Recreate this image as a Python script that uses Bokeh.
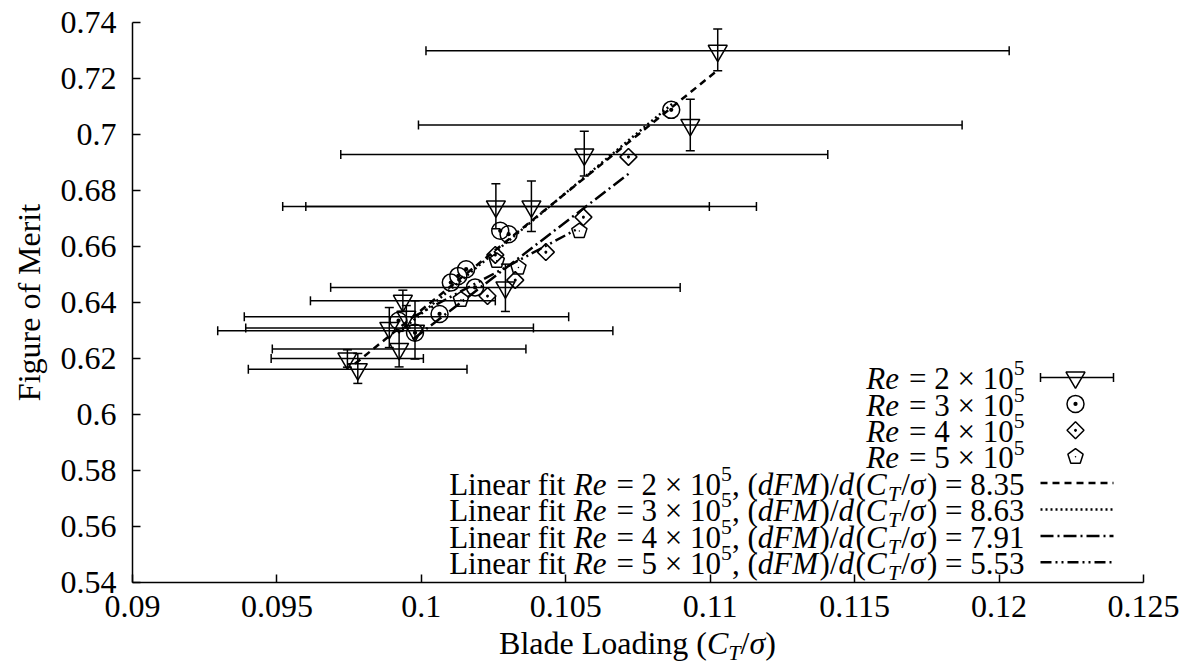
import numpy as np
from bokeh.plotting import figure
from bokeh.layouts import column
from bokeh.models import ColumnDataSource, Whisker, TeeHead, Label, FixedTicker, Range1d, Div
from bokeh.embed import file_html
from bokeh.resources import INLINE

# ---------------- data ----------------
# Re = 2e5 (with x and y error bars)
re2_x   = [0.11026, 0.10931, 0.10564, 0.10258, 0.10381, 0.10291, 0.09936, 0.09948, 0.09889, 0.09978, 0.09923, 0.09744, 0.09780]
re2_y   = [0.7299, 0.7034, 0.6929, 0.6743, 0.6743, 0.6454, 0.6406, 0.6349, 0.6309, 0.6299, 0.6234, 0.6200, 0.6162]
re2_xlo = [0.10016, 0.09990, 0.09721, 0.09520, 0.09600, 0.09686, 0.09616, 0.09387, 0.09392, 0.09295, 0.09484, 0.09480, 0.09401]
re2_xhi = [0.12035, 0.11872, 0.11407, 0.10997, 0.11160, 0.10896, 0.10256, 0.10510, 0.10388, 0.10663, 0.10362, 0.10007, 0.10158]
re2_ylo = [0.7228, 0.6942, 0.6852, 0.6663, 0.6654, 0.6368, 0.6368, 0.6309, 0.6239, 0.6198, 0.6170, 0.6169, 0.6111]
re2_yhi = [0.7377, 0.7126, 0.7012, 0.6824, 0.6834, 0.6537, 0.6444, 0.6389, 0.6382, 0.6406, 0.6297, 0.6231, 0.6218]

# Re = 3e5
re3_x = [0.10865, 0.10273, 0.10302, 0.10155, 0.10128, 0.10102, 0.10186, 0.10063, 0.09921, 0.09978]
re3_y = [0.7088, 0.6656, 0.6644, 0.6519, 0.6495, 0.6471, 0.6454, 0.6359, 0.6335, 0.6292]

# Re = 4e5
re4_x = [0.10717, 0.10561, 0.10431, 0.10256, 0.10325, 0.10229]
re4_y = [0.6920, 0.6705, 0.6580, 0.6570, 0.6480, 0.6423]

# Re = 5e5
re5_x = [0.10547, 0.10336, 0.10261, 0.10137]
re5_y = [0.6655, 0.6525, 0.6549, 0.6410]

# linear fits
re_factors     = ["2", "3", "4", "5"]
fit_slopes     = [8.35, 8.63, 7.91, 5.53]
fit_intercepts = [-0.1977, -0.2270, -0.1618, 0.0834]
fit_x_start    = [0.0977, 0.0992, 0.0997, 0.0997]
fit_x_end      = [0.1102, 0.1087, 0.1072, 0.1054]

x_ticks = [0.09, 0.095, 0.1, 0.105, 0.11, 0.115, 0.12, 0.125]
x_tick_labels = ["0.09", "0.095", "0.1", "0.105", "0.11", "0.115", "0.12", "0.125"]
y_ticks = [0.54, 0.56, 0.58, 0.6, 0.62, 0.64, 0.66, 0.68, 0.7, 0.72, 0.74]
y_tick_labels = ["0.54", "0.56", "0.58", "0.6", "0.62", "0.64", "0.66", "0.68", "0.7", "0.72", "0.74"]

# ---------------- layout ----------------
W, H = 1190, 663
XLAB_H = 33
LB, RB, TB, BB = 132, 47, 22, 48
X0, X1, Y0, Y1 = 0.09, 0.125, 0.54, 0.74
PH = H - XLAB_H
FW, FH = W - LB - RB, PH - TB - BB
SX = FW / (X1 - X0)
SY = FH / (Y1 - Y0)
FONT = "Liberation Serif"
F = 32      # tick / axis label size
FL = 31     # legend text size


def xd(px):
    return X0 + (px - LB) / SX


def yd(py):
    return Y1 - (py - TB) / SY


p = figure(width=W, height=PH, x_range=Range1d(X0, X1), y_range=Range1d(Y0, Y1),
           output_backend="svg", toolbar_location=None,
           min_border_left=LB, min_border_right=RB, min_border_top=TB, min_border_bottom=BB)
p.outline_line_color = None
p.grid.visible = False
p.background_fill_color = "white"
p.border_fill_color = "white"

for ax in (p.xaxis[0], p.yaxis[0]):
    ax.axis_line_color = "black"
    ax.axis_line_width = 1.5
    ax.major_tick_line_color = "black"
    ax.major_tick_line_width = 1.5
    ax.major_tick_in = 8
    ax.major_tick_out = 0
    ax.minor_tick_line_color = None
    ax.major_label_text_font = FONT
    ax.major_label_text_font_size = f"{F}px"
    ax.major_label_text_color = "black"

p.xaxis.ticker = FixedTicker(ticks=x_ticks)
p.xaxis.major_label_overrides = {t: s for t, s in zip(x_ticks, x_tick_labels)}
p.xaxis.major_label_standoff = 13
p.yaxis.ticker = FixedTicker(ticks=y_ticks)
p.yaxis.major_label_overrides = {t: s for t, s in zip(y_ticks, y_tick_labels)}
p.yaxis.major_label_standoff = 16
p.yaxis.axis_label = "Figure of Merit"
p.yaxis.axis_label_text_font = FONT
p.yaxis.axis_label_text_font_size = f"{F}px"
p.yaxis.axis_label_text_font_style = "normal"
p.yaxis.axis_label_text_color = "black"
p.yaxis.axis_label_standoff = 11

LW = 1.5

# ---------------- fit lines ----------------
dashes = ["7 5", "2 3", "13 4 2 4", "11 4 2 4 2 4"]
for s, b, xa, xb, dsh in zip(fit_slopes, fit_intercepts, fit_x_start, fit_x_end, dashes):
    xs = [xa, xb]
    ys = [s * xa + b, s * xb + b]
    p.line(xs, ys, line_color="black", line_width=2.5, line_dash=dsh)

# ---------------- error bars + points ----------------
src2 = ColumnDataSource(dict(x=re2_x, y=re2_y, xlo=re2_xlo, xhi=re2_xhi, ylo=re2_ylo, yhi=re2_yhi))
for dim, base, lo, hi in (("width", "y", "xlo", "xhi"), ("height", "x", "ylo", "yhi")):
    p.add_layout(Whisker(source=src2, base=base, lower=lo, upper=hi, dimension=dim,
                         line_color="black", line_width=LW,
                         upper_head=TeeHead(size=9, line_width=LW, line_color="black"),
                         lower_head=TeeHead(size=9, line_width=LW, line_color="black")))

p.scatter("x", "y", source=src2, marker="inverted_triangle", size=19,
          fill_color=None, line_color="black", line_width=LW)
p.scatter(re3_x, re3_y, marker="circle_dot", size=17, fill_color=None,
          line_color="black", line_width=LW)
p.scatter(re4_x, re4_y, marker="square_dot", angle=np.pi / 4, size=12, fill_color=None,
          line_color="black", line_width=LW)

ang = np.pi / 2 + 2 * np.pi * np.arange(5) / 5
RP = 8.0


def pentagons(xs, ys):
    return ([list(x + RP * np.cos(ang) / SX) for x in xs],
            [list(y + RP * np.sin(ang) / SY) for y in ys])


px5, py5 = pentagons(re5_x, re5_y)
p.patches(px5, py5, fill_color=None, line_color="black", line_width=LW)
p.scatter(re5_x, re5_y, marker="dot", size=6, color="black")

# ---------------- text helpers ----------------
ROM = {' ': .25, '(': .333, ')': .333, '/': .278, '=': .564, '×': .564, ',': .25, '.': .25,
       'L': .611, 'i': .278, 'n': .5, 'e': .444, 'a': .444, 'r': .333, 'f': .333, 't': .278,
       'B': .667, 'l': .278, 'd': .5, 'o': .5, 'g': .5}
ITA = {'R': .611, 'e': .444, 'd': .5, 'F': .611, 'M': .833, 'C': .667, 'T': .556, 'σ': .5}
SPACE = 0.27


def seg_w(text, style, size):
    tab = ITA if style == "italic" else ROM
    w = sum(tab.get(c, 0.5) for c in text) * size
    if style == "italic":
        w += 0.05 * size
    return w


def piece_w(text, style, kind, fs):
    size = fs * (0.7 if kind != "n" else 1.0)
    lead = len(text) - len(text.lstrip(" "))
    trail = len(text) - len(text.rstrip(" "))
    return (lead + trail) * SPACE * size + seg_w(text.strip(" "), style, size)


def total_w(pieces, fs):
    return sum(piece_w(t, s, k, fs) for t, s, k in pieces)


def place(pieces, left_px, base_py, fs):
    cx = left_px
    for text, style, kind in pieces:
        size = fs * (0.7 if kind != "n" else 1.0)
        shift = {"n": 0.0, "sup": -0.42 * fs, "sub": 0.22 * fs}[kind]
        lead = len(text) - len(text.lstrip(" "))
        trail = len(text) - len(text.rstrip(" "))
        core = text.strip(" ")
        cx += lead * SPACE * size
        by = base_py + shift - 0.29 * size
        p.add_layout(Label(x=xd(cx), y=yd(by), text=core, text_font=FONT,
                           text_font_size=f"{size:.1f}px", text_font_style=style,
                           text_color="black", text_align="left", text_baseline="alphabetic"))
        cx += seg_w(core, style, size) + trail * SPACE * size


# ---------------- legend ----------------
TXT_R = 1024
S0, S1, SM = 1040, 1113, 1075
row_c = [377 + 26.4 * i for i in range(8)]

rows = []
for k in re_factors:
    rows.append([("Re", "italic", "n"), (f" = {k} × 10", "normal", "n"), ("5", "normal", "sup")])
for k, s in zip(re_factors, fit_slopes):
    rows.append([("Linear fit ", "normal", "n"), ("Re", "italic", "n"), (f" = {k} × 10", "normal", "n"),
                 ("5", "normal", "sup"), (", (", "normal", "n"), ("dFM", "italic", "n"),
                 (")/", "normal", "n"), ("d", "italic", "n"), ("(", "normal", "n"), ("C", "italic", "n"),
                 ("T", "italic", "sub"), ("/", "normal", "n"), ("σ", "italic", "n"),
                 (f") = {s:.2f}", "normal", "n")])
for pcs, c in zip(rows, row_c):
    place(pcs, TXT_R - total_w(pcs, FL), c + 0.33 * FL, FL)

# legend samples
yc = [yd(c) for c in row_c]
p.segment(x0=[xd(S0)], y0=[yc[0]], x1=[xd(S1)], y1=[yc[0]], line_color="black", line_width=LW)
p.scatter([xd(S0), xd(S1)], [yc[0], yc[0]], marker="dash", angle=np.pi / 2, size=9,
          line_color="black", line_width=LW)
p.scatter([xd(SM)], [yc[0]], marker="inverted_triangle", size=19, fill_color=None,
          line_color="black", line_width=LW)
p.scatter([xd(SM)], [yc[1]], marker="circle_dot", size=17, fill_color=None,
          line_color="black", line_width=LW)
p.scatter([xd(SM)], [yc[2]], marker="square_dot", angle=np.pi / 4, size=12, fill_color=None,
          line_color="black", line_width=LW)
lpx, lpy = pentagons([xd(SM)], [yc[3]])
p.patches(lpx, lpy, fill_color=None, line_color="black", line_width=LW)
p.scatter([xd(SM)], [yc[3]], marker="dot", size=6, color="black")
for i, dsh in enumerate(dashes):
    p.line([xd(S0), xd(S1)], [yc[4 + i], yc[4 + i]], line_color="black", line_width=2.5, line_dash=dsh)

# ---------------- x-axis label (rich text below the plot) ----------------
pad_left = 2 * (LB + FW / 2) - W
xlabel_html = (
    f"<div style=\"width:{W - pad_left:.0f}px; margin-left:{pad_left:.0f}px; text-align:center; "
    f"font-family:'{FONT}'; font-size:{F}px; line-height:26px; color:black; white-space:nowrap;\">"
    "Blade Loading (<i>C</i><i style=\"font-size:22px; position:relative; top:6px;\">T</i>"
    "/<i>σ</i>)</div>"
)
xlabel = Div(text=xlabel_html, width=W, height=XLAB_H, margin=(0, 0, 0, 0))

layout = column(p, xlabel, spacing=0)
open("out.html", "w").write(file_html(layout, INLINE))
